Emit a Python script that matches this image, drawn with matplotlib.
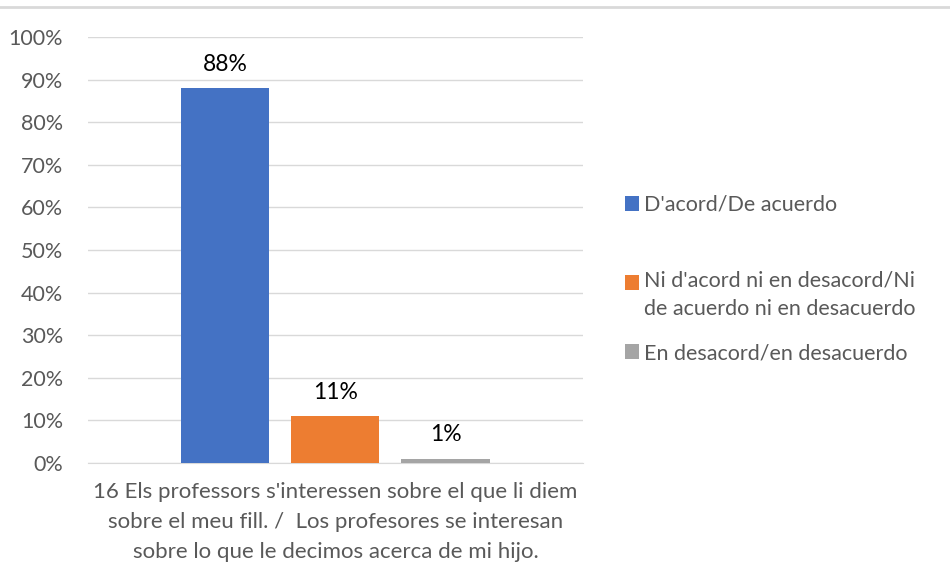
import numpy as np
import matplotlib.pyplot as plt
from matplotlib.lines import Line2D
from matplotlib.patches import Rectangle, Patch
from matplotlib.legend_handler import HandlerPatch
from matplotlib.ticker import PercentFormatter

plt.rcParams['font.family'] = ['Lato', 'DejaVu Sans']

# data
series = ["D'acord/De acuerdo",
          "Ni d'acord ni en desacord/Ni\nde acuerdo ni en desacuerdo",
          "En desacord/en desacuerdo"]
values = [88, 11, 1]
colors = ['#4472C4', '#ED7D31', '#A5A5A5']
category = ("16 Els professors s'interessen sobre el que li diem\n"
            "sobre el meu fill. /  Los profesores se interesan\n"
            "sobre lo que le decimos acerca de mi hijo.")


class RaisedHandler(HandlerPatch):
    # square lined up with the first line of a two-line label
    def __init__(self, dy):
        super().__init__()
        self.dy = dy

    def create_artists(self, legend, orig_handle, xdescent, ydescent,
                       width, height, fontsize, trans):
        p = Rectangle((-xdescent, -ydescent + self.dy), width, height,
                      facecolor=orig_handle.get_facecolor(), lw=0,
                      transform=trans)
        return [p]


fig = plt.figure(figsize=(9.5, 5.79), dpi=100)
ax = fig.add_axes([0.0926, 0.2003, 0.5211, 0.7357])

pos = np.arange(len(values)) - 1
bars = ax.bar(pos, values, width=0.8, color=colors, zorder=3)
for b, v in zip(bars, values):
    ax.text(b.get_x() + b.get_width() / 2, v + 3.2, '%d%%' % v,
            ha='center', va='bottom', fontsize=16.5, color='#000000')

ax.set_xlim(-2.25, 2.25)
ax.set_ylim(0, 100)
ax.set_yticks(np.arange(0, 101, 10))
ax.yaxis.set_major_formatter(PercentFormatter(decimals=0))
ax.set_xticks([0])
ax.set_xticklabels([category], linespacing=1.62, fontsize=16)
ax.tick_params(axis='both', length=0, labelcolor='#595959')
ax.tick_params(axis='y', pad=18, labelsize=15.5)
ax.tick_params(axis='x', pad=14)
ax.grid(axis='y', color='#D9D9D9', lw=1, zorder=0)
for s in ['top', 'right', 'left']:
    ax.spines[s].set_visible(False)
ax.spines['bottom'].set_color('#D9D9D9')

# legend, one entry at a time (uneven gaps as in the original)
leg_y = [0.646, 0.4905, 0.3903]
shift = [0, 9.4, 0]
for lab, c, y, dy in zip(series, colors, leg_y, shift):
    h = Patch(facecolor=c)
    lg = fig.legend([h], [lab], loc='center left', bbox_to_anchor=(0.658, y),
                    frameon=False, fontsize=15.5, labelcolor='#595959',
                    handlelength=0.65, handleheight=0.65, handletextpad=0.25,
                    borderpad=0, borderaxespad=0,
                    handler_map={Patch: RaisedHandler(dy)})
    for t in lg.get_texts():
        t.set_linespacing(1.55)

fig.add_artist(Line2D([0, 1], [0.988, 0.988], color='#D9D9D9', lw=2))

fig.savefig('out.png', dpi=100)
